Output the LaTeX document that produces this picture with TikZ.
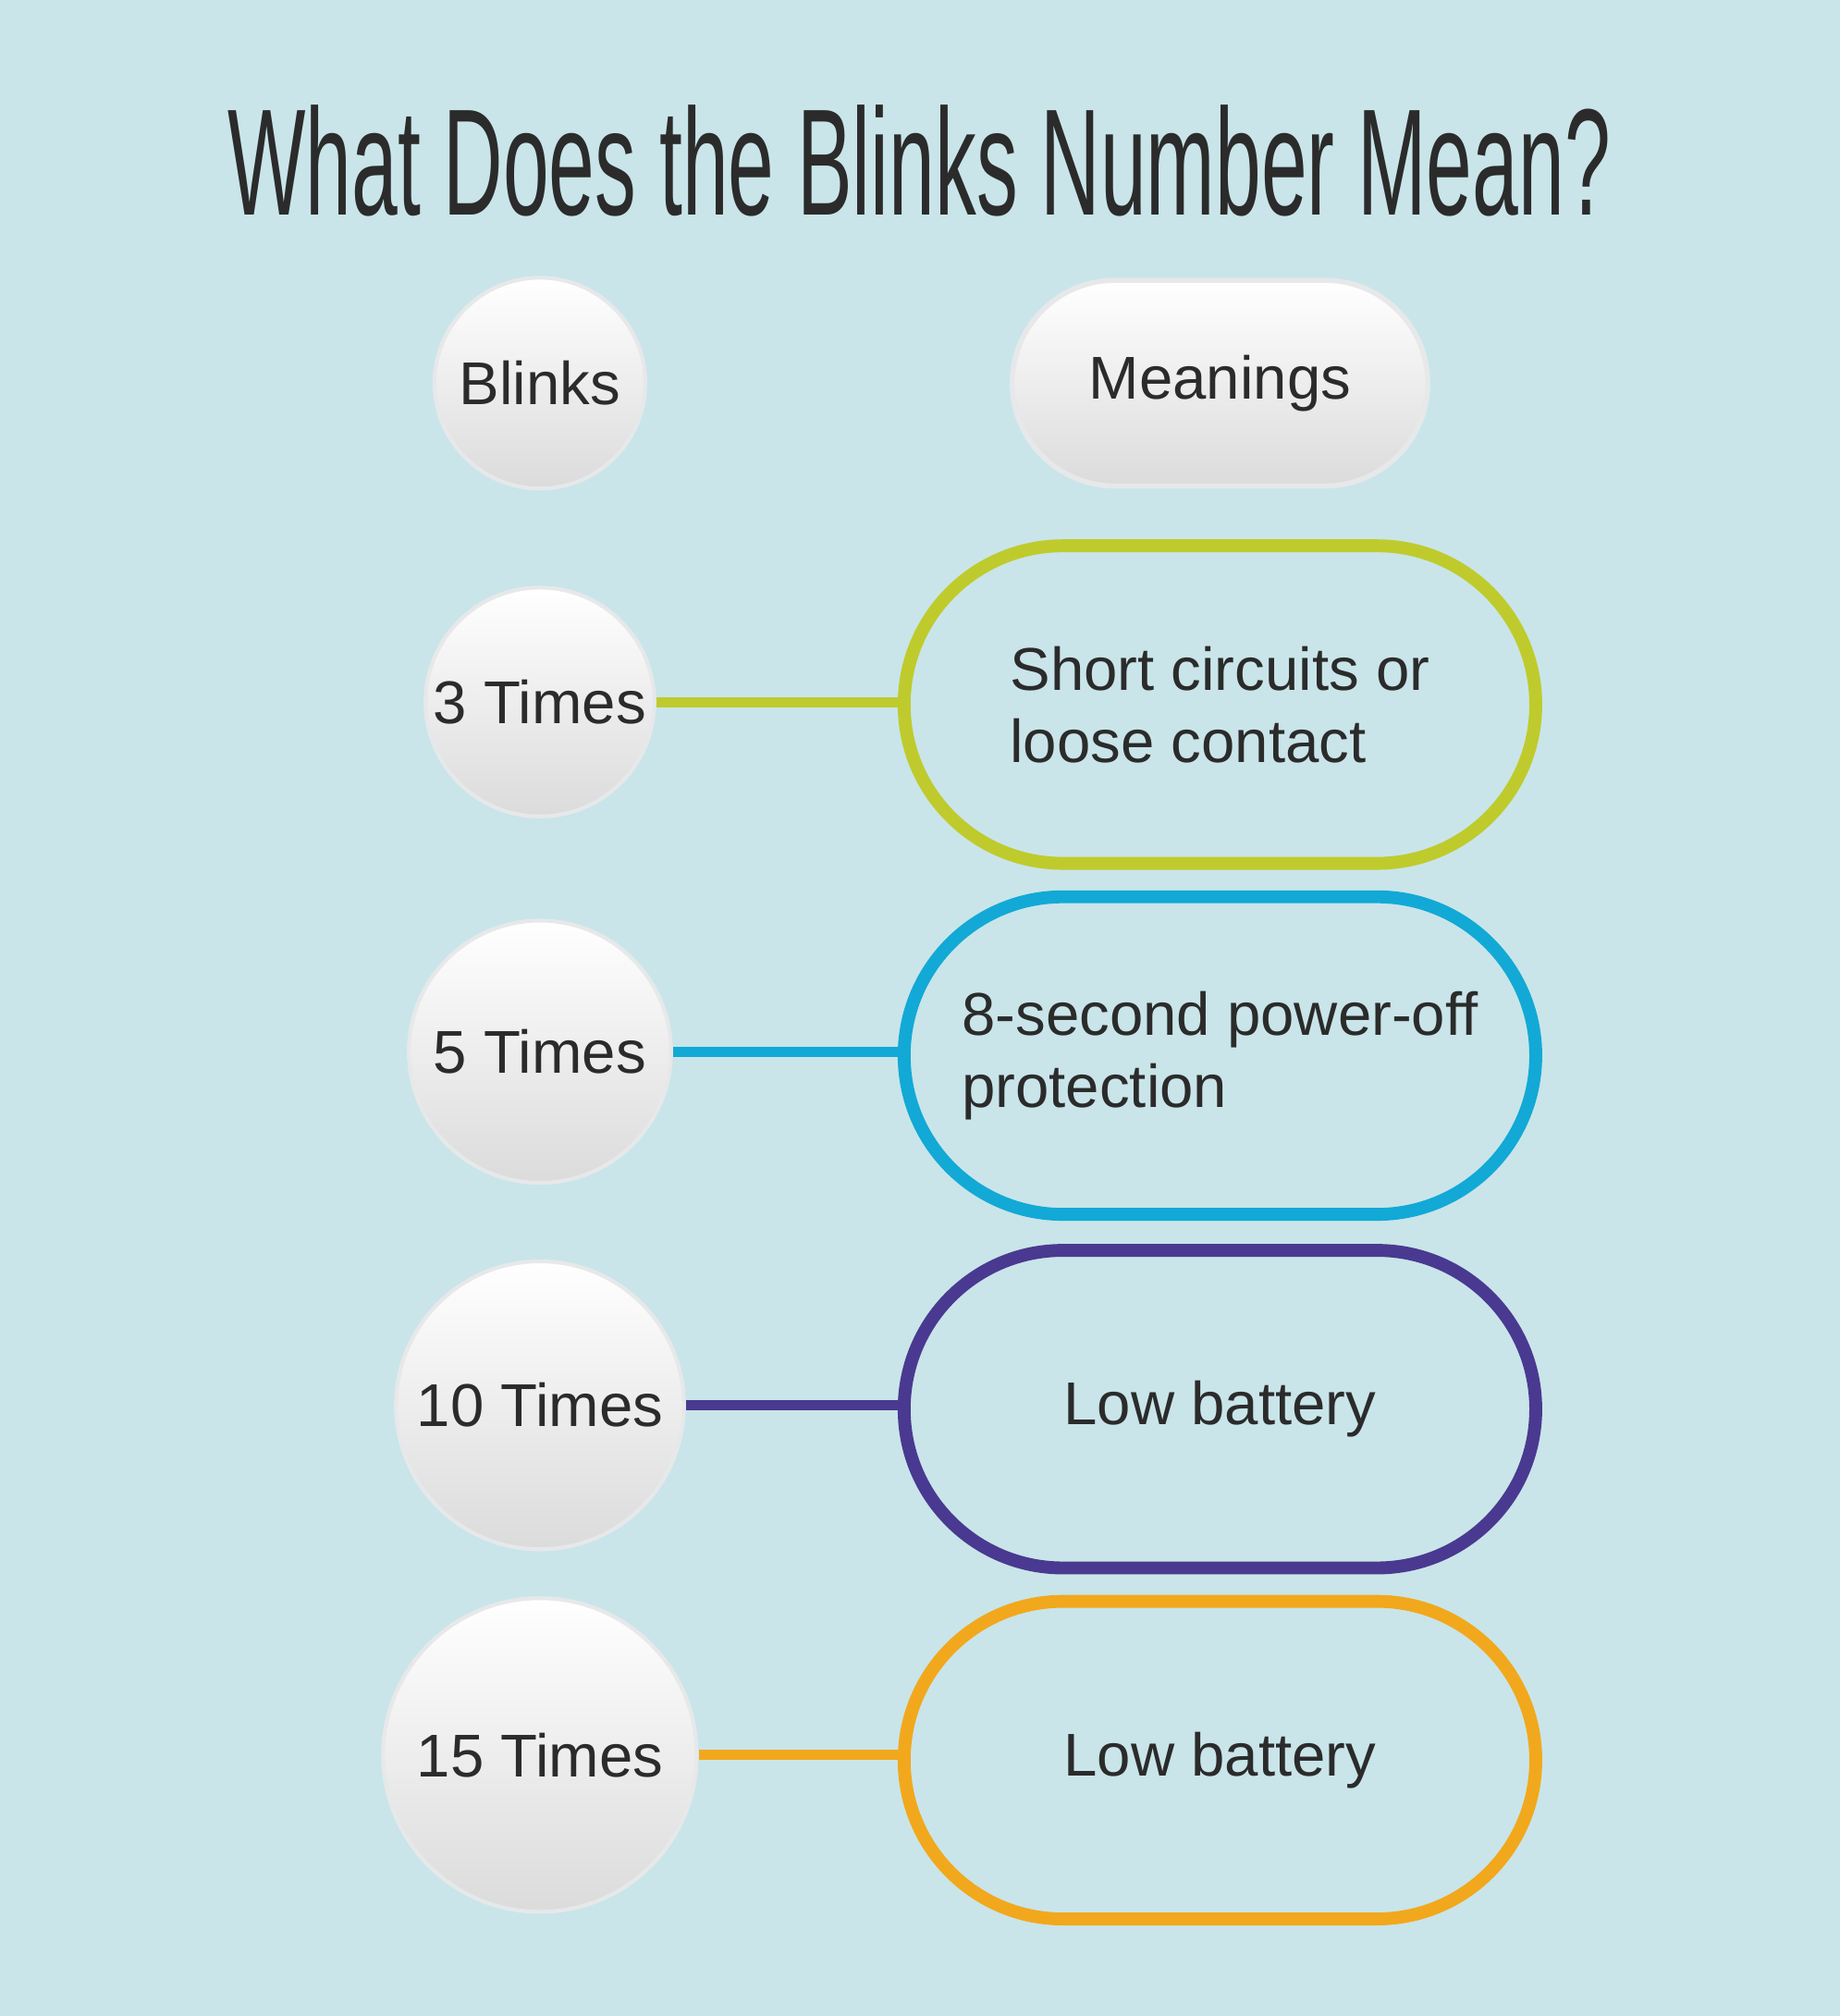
\documentclass[tikz,border=0pt]{standalone}
\usepackage{fontspec}
\setmainfont{Liberation Sans}
\usetikzlibrary{shapes.misc}
\definecolor{bg}{HTML}{C9E5E9}
\definecolor{cgreen}{HTML}{BFCB2C}
\definecolor{cblue}{HTML}{12A9D6}
\definecolor{cpurple}{HTML}{4A3990}
\definecolor{corange}{HTML}{F2A81C}
\definecolor{ctext}{HTML}{2B2B2B}
\definecolor{cedge}{HTML}{E6E8EA}
\tikzset{
 blink/.style={circle,draw=cedge,line width=3pt,top color=white,bottom color=gray!28,font=\fontsize{47}{50}\selectfont,text=ctext,inner sep=0pt,minimum size=#1},
 pill/.style={rounded rectangle,draw=#1,line width=10pt,minimum width=498pt,minimum height=247pt,font=\fontsize{47}{56}\selectfont,text=ctext,align=left},
 link/.style={draw=#1,line width=8pt}
}
\begin{document}
\begin{tikzpicture}[x=1pt,y=-1pt]
\fill[bg] (0,0) rectangle (1431,1568);
\useasboundingbox (0,0) rectangle (1431,1568);
\node[text=ctext] (title) at (715,125) {\scalebox{0.545}[1]{\fontsize{118}{120}\selectfont What Does the Blinks Number Mean?}};
\node[blink=164pt] (hb) at (420,298) {Blinks};
\node[rounded rectangle,draw=cedge,line width=4pt,top color=white,bottom color=gray!28,minimum width=330pt,minimum height=160pt,font=\fontsize{47}{50}\selectfont,text=ctext] (hm) at (949,298) {Meanings};
\node[blink=178pt] (b1) at (420,546) {3 Times};
\node[blink=204pt] (b2) at (420,818) {5 Times};
\node[blink=224pt] (b3) at (420,1093) {10 Times};
\node[blink=244pt] (b4) at (420,1365) {15 Times};
\node[pill=cgreen] (m1) at (949,548) {Short circuits or\\loose contact};
\node[pill=cblue] (m2) at (949,821) {8-second power-off\\protection};
\node[pill=cpurple] (m3) at (949,1096) {Low battery};
\node[pill=corange] (m4) at (949,1369) {Low battery};
\draw[link=cgreen] (b1.east) -- (b1.east -| m1.west);
\draw[link=cblue] (b2.east) -- (b2.east -| m2.west);
\draw[link=cpurple] (b3.east) -- (b3.east -| m3.west);
\draw[link=corange] (b4.east) -- (b4.east -| m4.west);
\end{tikzpicture}
\end{document}
